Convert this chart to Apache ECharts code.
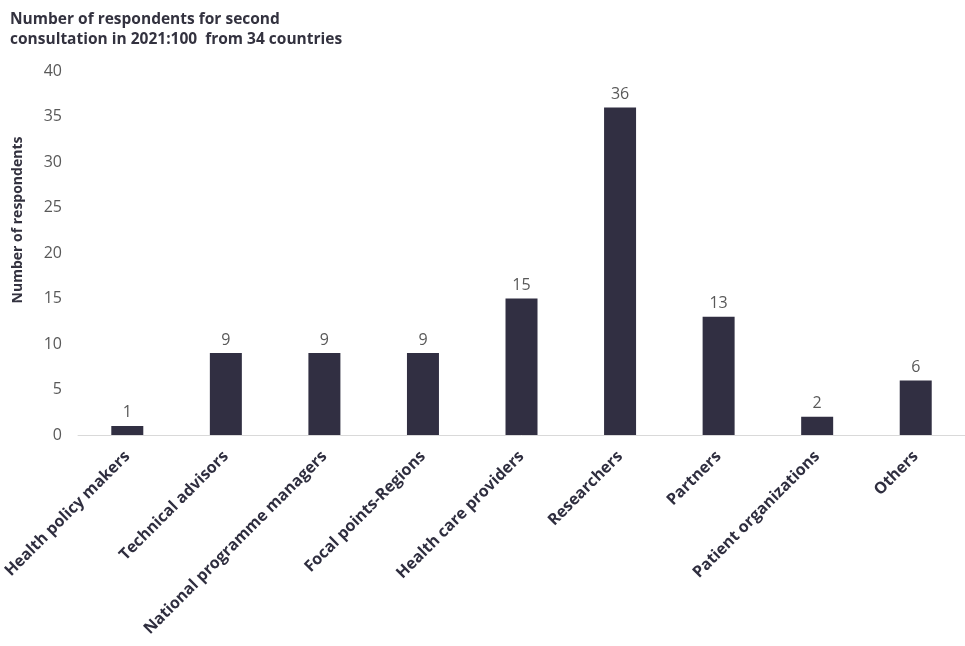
<!DOCTYPE html>
<html>
<head>
<meta charset="utf-8">
<script src="https://cdn.jsdelivr.net/npm/echarts@6/dist/echarts.min.js"></script>
<style>
  html, body { margin: 0; padding: 0; background: #fff; }
  #chart { width: 965px; height: 646px; }
</style>
</head>
<body>
<div id="chart"></div>
<script>
// Respondent groups and counts
const categories = [
  'Health policy makers',
  'Technical advisors',
  'National programme managers',
  'Focal points-Regions',
  'Health care providers',
  'Researchers',
  'Partners',
  'Patient organizations',
  'Others'
];
const respondents = [1, 9, 9, 9, 15, 36, 13, 2, 6];
const yTicks = [0, 5, 10, 15, 20, 25, 30, 35, 40];

const FONT = '"Open Sans", "Noto Sans", sans-serif';
const chart = echarts.init(document.getElementById('chart'));

chart.setOption({
  animation: false,
  textStyle: { fontFamily: FONT },
  title: {
    text: 'Number of respondents for second\nconsultation in 2021:100  from 34 countries',
    left: 5,
    top: 5,
    textStyle: {
      fontFamily: FONT,
      fontSize: 15.5,
      fontWeight: 'bold',
      color: '#33323f',
      lineHeight: 20
    }
  },
  graphic: [{
    type: 'text',
    x: 18,
    y: 220,
    rotation: Math.PI / 2,
    style: {
      text: 'Number of respondents',
      fontFamily: FONT,
      fontSize: 14,
      fontWeight: 'bold',
      fill: '#33323f',
      textAlign: 'center',
      textVerticalAlign: 'middle'
    }
  }],
  grid: { left: 77, top: 71, width: 888, height: 364, containLabel: false },
  xAxis: {
    type: 'category',
    data: categories,
    axisLine: { lineStyle: { color: '#d9d9d9', width: 1 } },
    axisTick: { show: false },
    axisLabel: {
      interval: 0,
      rotate: 45,
      margin: 19,
      fontFamily: FONT,
      fontSize: 16,
      fontWeight: 'bold',
      color: '#2f2e3f'
    }
  },
  yAxis: {
    type: 'value',
    min: yTicks[0],
    max: yTicks[yTicks.length - 1],
    interval: yTicks[1] - yTicks[0],
    axisLine: { show: false },
    axisTick: { show: false },
    splitLine: { show: false },
    axisLabel: {
      margin: 16,
      fontFamily: FONT,
      fontSize: 16,
      color: '#595959'
    }
  },
  series: [{
    type: 'bar',
    data: respondents,
    barWidth: 32,
    itemStyle: { color: '#312f42' },
    label: {
      show: true,
      position: 'top',
      distance: 5,
      fontFamily: FONT,
      fontSize: 16,
      color: '#595959'
    }
  }]
});
</script>
</body>
</html>
